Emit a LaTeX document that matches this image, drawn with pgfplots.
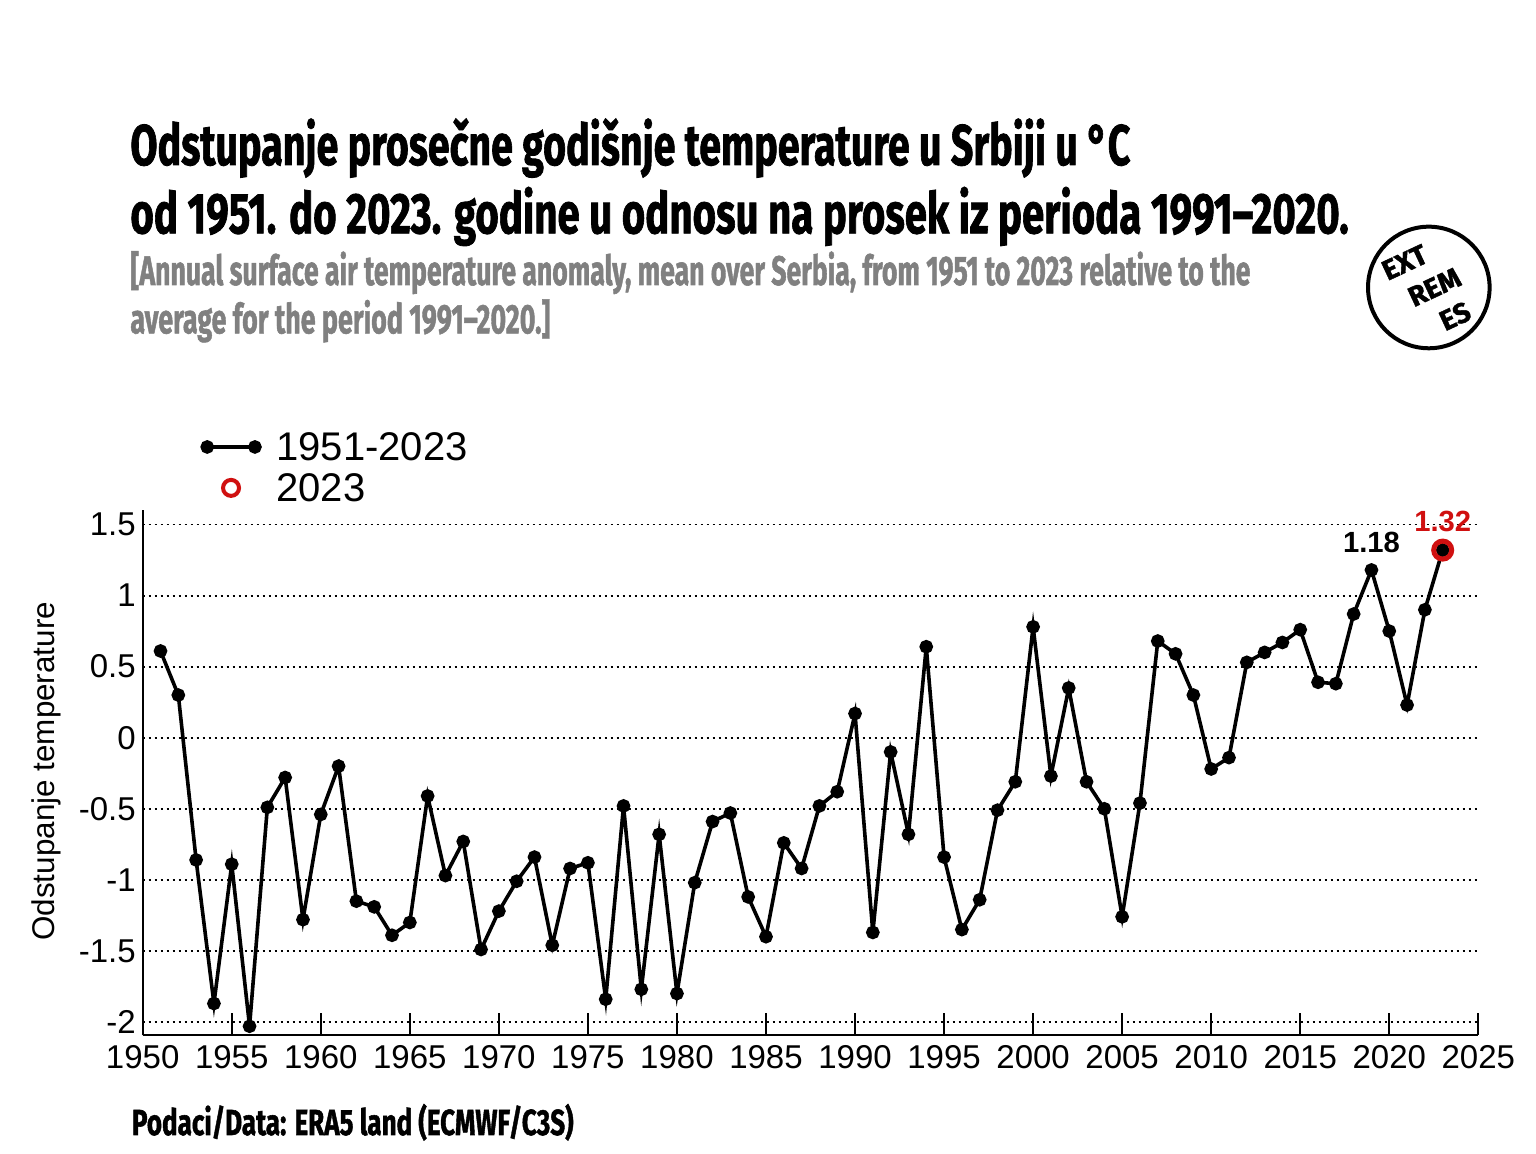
\documentclass[border=0pt]{standalone}
\usepackage{pgfplots}
\pgfplotsset{compat=1.18}
\usepackage{pgfplotstable}
\usepackage{graphicx}
\usepackage{fontspec}
\setmainfont{Liberation Sans}
\newfontfamily\titlefont{Fira Sans}[BoldFeatures={FakeBold=1.5}]
\definecolor{subgray}{RGB}{128,128,128}
\definecolor{hl}{RGB}{208,16,16}

\pgfplotsset{
  legA/.style={legend image code/.code={\draw[mark repeat=1,mark phase=1,##1] plot coordinates {(0pt,0pt) (23.85pt,0pt)};}},
  legB/.style={legend image code/.code={\path (-2.5pt,0pt) (26.35pt,0pt); \draw[mark repeat=1,mark phase=1,##1, mark size=4pt, line width=2pt] plot coordinates {(11.9pt,0pt)};}},
}

\pgfplotstableread{
year anomaly
1951 0.61
1952 0.30
1953 -0.86
1954 -1.87
1955 -0.89
1956 -2.03
1957 -0.49
1958 -0.28
1959 -1.28
1960 -0.54
1961 -0.20
1962 -1.15
1963 -1.19
1964 -1.39
1965 -1.30
1966 -0.41
1967 -0.97
1968 -0.73
1969 -1.49
1970 -1.22
1971 -1.01
1972 -0.84
1973 -1.46
1974 -0.92
1975 -0.88
1976 -1.84
1977 -0.48
1978 -1.77
1979 -0.68
1980 -1.80
1981 -1.02
1982 -0.59
1983 -0.53
1984 -1.12
1985 -1.40
1986 -0.74
1987 -0.92
1988 -0.48
1989 -0.38
1990 0.17
1991 -1.37
1992 -0.10
1993 -0.68
1994 0.64
1995 -0.84
1996 -1.35
1997 -1.14
1998 -0.51
1999 -0.31
2000 0.78
2001 -0.27
2002 0.35
2003 -0.31
2004 -0.50
2005 -1.26
2006 -0.46
2007 0.68
2008 0.59
2009 0.30
2010 -0.22
2011 -0.14
2012 0.53
2013 0.60
2014 0.67
2015 0.76
2016 0.39
2017 0.38
2018 0.87
2019 1.18
2020 0.75
2021 0.23
2022 0.90
2023 1.32
}\anomalydata

\begin{document}
\begin{tikzpicture}
\path[use as bounding box, fill=white] (0pt,0pt) rectangle (768pt,577pt);

% Titles
\node[anchor=base west, inner sep=0pt] at (65pt,494.5pt)
  {\resizebox{500pt}{\height}{\titlefont\bfseries\fontsize{28.6}{30}\selectfont Odstupanje prosečne godišnje temperature u Srbiji u °C}};
\node[anchor=base west, inner sep=0pt] at (65pt,460.35pt)
  {\resizebox{609.2pt}{\height}{\titlefont\bfseries\fontsize{28.6}{30}\selectfont od 1951. do 2023. godine u odnosu na prosek iz perioda 1991–2020.}};
\node[anchor=base west, inner sep=0pt, text=subgray] at (65pt,434.5pt)
  {\resizebox{560pt}{\height}{\titlefont\bfseries\fontsize{20.6}{22}\selectfont [Annual surface air temperature anomaly, mean over Serbia, from 1951 to 2023 relative to the}};
\node[anchor=base west, inner sep=0pt, text=subgray] at (65pt,410.35pt)
  {\resizebox{210pt}{\height}{\titlefont\bfseries\fontsize{20.6}{22}\selectfont average for the period 1991–2020.]}};
\node[anchor=base west, inner sep=0pt] at (65.8pt,9.5pt)
  {\resizebox{220.8pt}{\height}{\titlefont\bfseries\fontsize{18.1}{20}\selectfont Podaci/Data: ERA5 land (ECMWF/C3S)}};

% Logo
\draw[line width=2pt] (714.4pt,433.25pt) circle (30.4pt);
\node[rotate=25, font=\titlefont\bfseries\fontsize{14}{17.5}\selectfont, inner sep=0pt, align=left] at (714.4pt,432pt)
  {EXT\\\hspace{0.45em}REM\\\hspace{1.1em}ES};

\begin{axis}[
  at={(71.35pt,59.25pt)}, anchor=south west,
  width=667.8pt, height=262.6pt, scale only axis,
  xmin=1950, xmax=2025, ymin=-2.095, ymax=1.6,
  enlargelimits=false, clip=false,
  axis x line*=bottom, axis y line*=left,
  axis line style={-, line width=1pt, black},
  xtick={1950,1955,...,2025},
  ytick={-2,-1.5,-1,-0.5,0,0.5,1,1.5},
  tick align=inside,
  major tick length=11.2pt,
  x tick style={line width=1pt, black},
  y tick style={draw=none},
  /pgf/number format/assume math mode=true,
  /pgf/number format/1000 sep={},
  tick label style={font=\fontsize{16.5}{16.5}\selectfont},
  xticklabel shift=1.4pt,
  ymajorgrids,
  major grid style={black, line width=0.95pt, dash pattern=on 0.95pt off 2.05pt},
  ylabel={Odstupanje temperature},
  ylabel style={font=\fontsize{15.7}{15.7}\selectfont, at={(axis description cs:-0.0657,0.503)}, anchor=base},
  legend style={at={(axis description cs:0.0424,1.1555)}, anchor=north west,
    draw=none, fill=none, inner sep=0pt,
    font=\fontsize{20}{20}\selectfont,
    nodes={inner sep=2pt, text depth=0pt},
    row sep=2.5pt, column sep=5pt},
  legend cell align=left,
]
\addplot[black, line width=1.8pt, mark=*, mark size=2.5pt, legA]
  table[x=year, y=anomaly] {\anomalydata};
\addlegendentry{1951-2023}
\addplot[only marks, mark=o, mark size=4.5pt, draw=hl, line width=2.5pt, legB]
  coordinates {(2023,1.32)};
\addlegendentry{2023}

\node[anchor=base, yshift=8.55pt, font=\bfseries\fontsize{14.6}{14.6}\selectfont] at (axis cs:2019,1.18) {1.18};
\node[anchor=base, yshift=9.1pt, text=hl, font=\bfseries\fontsize{14.6}{14.6}\selectfont] at (axis cs:2023,1.32) {1.32};
\end{axis}
\end{tikzpicture}
\end{document}
